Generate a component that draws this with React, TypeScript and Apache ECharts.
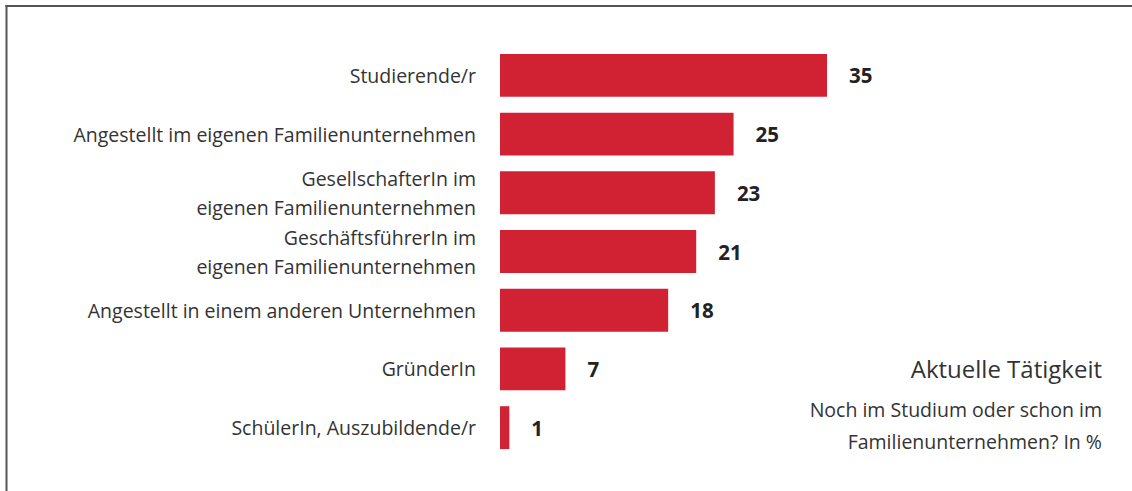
import React, { useEffect, useRef } from "react";
import * as echarts from "echarts";

const categories = [
  "Studierende/r",
  "Angestellt im eigenen Familienunternehmen",
  "GesellschafterIn im\neigenen Familienunternehmen",
  "GeschäftsführerIn im\neigenen Familienunternehmen",
  "Angestellt in einem anderen Unternehmen",
  "GründerIn",
  "SchülerIn, Auszubildende/r",
];
const values = [35, 25, 23, 21, 18, 7, 1];
const titleText = "Aktuelle Tätigkeit";
const subtitleText = "Noch im Studium oder schon im\nFamilienunternehmen? In %";

const FONT = "'Open Sans', 'Noto Sans', sans-serif";

export default function App() {
  const ref = useRef<HTMLDivElement>(null);
  useEffect(() => {
    if (!ref.current) return;
    const chart = echarts.init(ref.current, null, { renderer: "svg" });
    chart.setOption({
      animation: false,
      backgroundColor: "#ffffff",
      grid: { left: 500, right: 305, top: 46, bottom: 34, containLabel: false },
      xAxis: {
        type: "value",
        min: 0,
        max: 35,
        show: false,
      },
      yAxis: {
        type: "category",
        data: categories,
        inverse: true,
        axisLine: { show: false },
        axisTick: { show: false },
        splitLine: { show: false },
        axisLabel: {
          margin: 24,
          fontFamily: FONT,
          fontSize: 19.5,
          color: "#333333",
          lineHeight: 29,
          align: "right",
        },
      },
      series: [
        {
          type: "bar",
          data: values,
          barCategoryGap: "27%",
          itemStyle: { color: "#D12234" },
          label: {
            show: true,
            position: "right",
            distance: 22,
            fontFamily: FONT,
            fontSize: 20.5,
            fontWeight: "bold",
            color: "#222222",
          },
        },
      ],
      graphic: [
        {
          type: "line",
          shape: { x1: 5.5, y1: 6, x2: 1132, y2: 6 },
          style: { stroke: "#555555", lineWidth: 2 },
        },
        {
          type: "line",
          shape: { x1: 6.5, y1: 5, x2: 6.5, y2: 491 },
          style: { stroke: "#555555", lineWidth: 2 },
        },
        {
          type: "text",
          right: 30,
          top: 356,
          style: {
            text: titleText,
            fontFamily: FONT,
            fontSize: 24,
            fill: "#333333",
            textAlign: "right",
          },
        },
        {
          type: "text",
          right: 30,
          top: 393,
          style: {
            text: subtitleText,
            fontFamily: FONT,
            fontSize: 19.5,
            lineHeight: 32,
            fill: "#333333",
            textAlign: "right",
          },
        },
      ],
    });
    return () => chart.dispose();
  }, []);
  return (
    <div
      ref={ref}
      style={{ position: "absolute", left: 0, top: 0, width: 1132, height: 491 }}
    />
  );
}
